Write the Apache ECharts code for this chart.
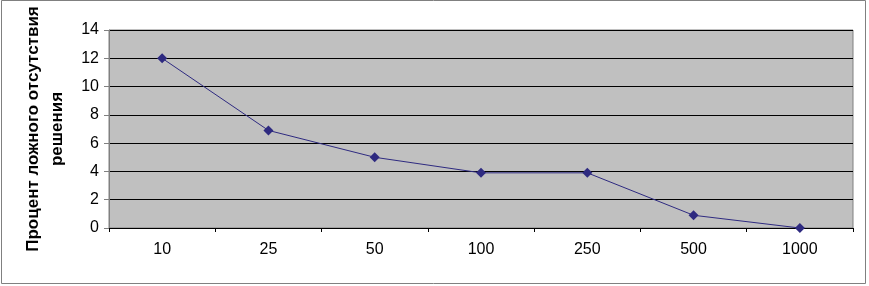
<!DOCTYPE html>
<html><head><meta charset="utf-8">
<script src="https://cdn.jsdelivr.net/npm/echarts@6/dist/echarts.min.js"></script>
<style>html,body{margin:0;padding:0;background:#fff}#c{width:869px;height:286px}</style>
</head><body><div id="c"></div>
<script>
const categories = ['10','25','50','100','250','500','1000'];
const values = [12, 6.9, 5, 3.9, 3.9, 0.9, 0];
const yTicks = [0,2,4,6,8,10,12,14];
const yName = 'Процент ложного отсутствия\nрешения';

const chart = echarts.init(document.getElementById('c'));
chart.setOption({
  animation:false,
  backgroundColor:'#fff',
  graphic:[{type:'rect',shape:{x:1.5,y:0.5,width:864,height:283},style:{fill:'none',stroke:'#808080',lineWidth:1},silent:true}],
  grid:{left:109,right:16,top:30,bottom:58,containLabel:false,outerBoundsMode:'none',show:true,backgroundColor:'#c0c0c0',borderColor:'#808080',borderWidth:1},
  xAxis:{type:'category',data:categories,boundaryGap:true,
    axisLine:{lineStyle:{color:'#000',width:1}},
    axisTick:{show:true,interval:0,length:4,lineStyle:{color:'#000'}},
    axisLabel:{color:'#000',fontFamily:'Arial',fontSize:16,margin:14}},
  yAxis:{type:'value',min:0,max:14,interval:2,
    name:yName,nameLocation:'middle',nameGap:40,nameRotate:90,
    nameTextStyle:{color:'#000',fontFamily:'Arial',fontSize:17,fontWeight:'bold',lineHeight:24},
    axisLine:{show:true,lineStyle:{color:'#808080'}},
    axisTick:{show:true,length:5,lineStyle:{color:'#808080'}},
    splitLine:{lineStyle:{color:'#000',width:1}},
    axisLabel:{color:'#000',fontFamily:'Arial',fontSize:16,margin:10}},
  series:[{type:'line',data:values,symbol:'diamond',symbolSize:10,
    itemStyle:{color:'#2e2a80'},lineStyle:{color:'#2e2a80',width:1}}]
});
</script></body></html>
